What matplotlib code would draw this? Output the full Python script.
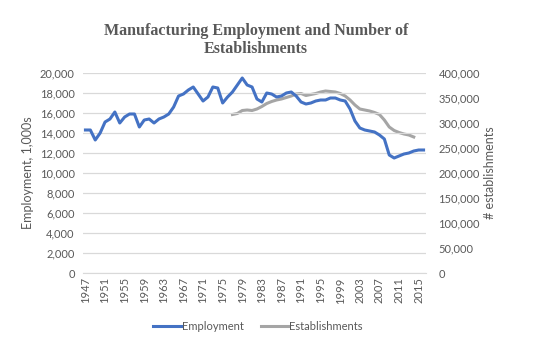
import numpy as np
import matplotlib
matplotlib.use('Agg')
import matplotlib.pyplot as plt
from matplotlib.ticker import FuncFormatter

# data
years = list(range(1947, 2017))
employment = [14300, 14300, 13300, 14000, 15100, 15400, 16100, 15000, 15600, 15900,
              15900, 14600, 15300, 15400, 15000, 15400, 15600, 15900, 16600, 17700,
              17900, 18300, 18600, 17900, 17200, 17600, 18600, 18500, 17000, 17600,
              18100, 18800, 19500, 18800, 18600, 17400, 17100, 18000, 17900, 17600,
              17700, 18000, 18100, 17700, 17100, 16900, 17000, 17200, 17300, 17300,
              17500, 17500, 17300, 17200, 16400, 15200, 14500, 14300, 14200, 14100,
              13800, 13400, 11800, 11500, 11700, 11900, 12000, 12200, 12300, 12300]
est_years = list(range(1977, 2015))
establishments = [317000, 319000, 325000, 326000, 325000, 328000, 333000, 339000, 343000, 346000,
                  348000, 351000, 354000, 358000, 359000, 355000, 357000, 359000, 362000, 364000,
                  363000, 362000, 359000, 354000, 346000, 336000, 328000, 326000, 324000, 321000,
                  317000, 306000, 292000, 285000, 281000, 278000, 276000, 272000]

txt = '#595959'
plt.rcParams['font.family'] = ['Lato', 'DejaVu Sans']

fig = plt.figure(figsize=(5.36, 3.57), dpi=100)
ax = fig.add_axes([83/536, 84/357, 343/536, 200/357])
ax2 = ax.twinx()

l1, = ax.plot(years, employment, color='#4472C4', lw=2.2, label='Employment', zorder=3)
l2, = ax2.plot(est_years, establishments, color='#A5A5A5', lw=2.2, label='Establishments')
ax.set_zorder(ax2.get_zorder() + 1)
ax.patch.set_visible(False)

ax.set_xlim(1946.5, 2016.5)
ax.set_ylim(0, 20000)
ax2.set_ylim(0, 400000)
ax.set_yticks(np.arange(0, 20001, 2000))
ax2.set_yticks(np.arange(0, 400001, 50000))
ax.set_xticks(range(1947, 2017, 4))
ax.tick_params(axis='x', rotation=90)

fmt = FuncFormatter(lambda v, p: f'{int(v):,}')
ax.yaxis.set_major_formatter(fmt)
ax2.yaxis.set_major_formatter(fmt)

ax.grid(axis='y', color='#D9D9D9', lw=0.9)
for a in (ax, ax2):
    for s in a.spines.values():
        s.set_visible(False)
    a.tick_params(length=0, labelsize=8, colors=txt, pad=6)
ax.spines['bottom'].set_visible(True)
ax.spines['bottom'].set_color('#D9D9D9')
ax.tick_params(axis='x', pad=3)
ax2.tick_params(axis='y', pad=9)

ax.set_ylabel('Employment, 1,000s', color=txt, fontsize=9, labelpad=4)
ax2.set_ylabel('# establishments', color=txt, fontsize=9, labelpad=3)

fig.text(256/536, 1 - 23/357, 'Manufacturing Employment and Number of\nEstablishments',
         ha='center', va='top', fontsize=11.5, fontweight='bold', color=txt,
         family='Liberation Serif', linespacing=1.15)

fig.legend(handles=[l1, l2], loc='center', bbox_to_anchor=(258/536, 1 - 326/357), ncol=2,
           frameon=False, fontsize=8, labelcolor=txt, handlelength=2.5, handletextpad=0.1,
           columnspacing=1.5)

fig.savefig('out.png', dpi=100)
